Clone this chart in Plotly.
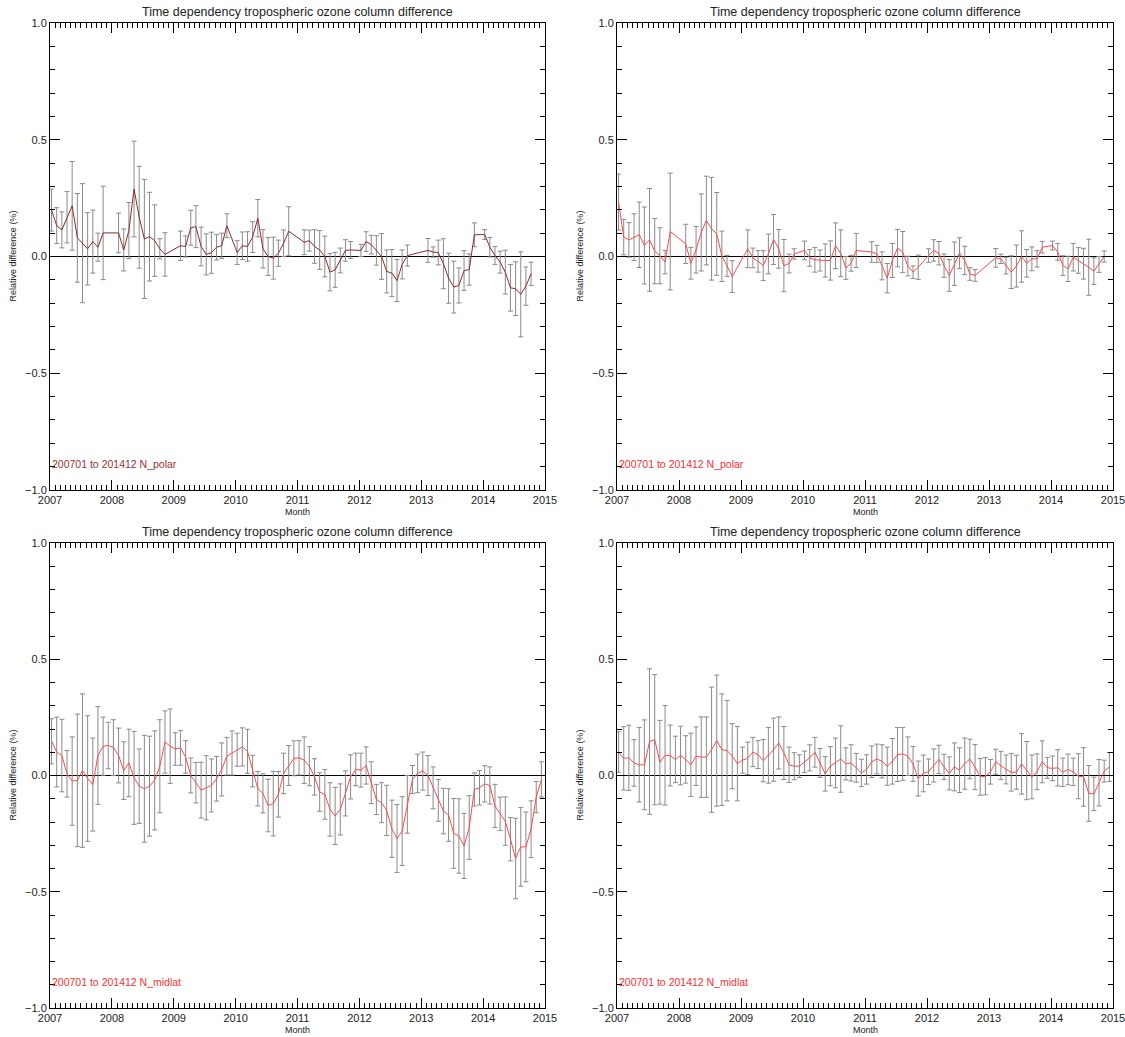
import plotly.graph_objects as go

# ---- N_polar, run A (dark red) ----
polar_a_months = [0, 1, 2, 3, 4, 5, 6, 7, 8, 9, 10, 13, 14, 15, 16, 17, 18, 19, 20, 21, 22,
                  25, 26, 27, 28, 29, 30, 31, 32, 33, 34, 36, 37, 38, 39, 40, 41, 42, 43, 44, 45, 46,
                  49, 50, 51, 52, 53, 54, 55, 56, 57, 58, 60, 61, 62, 63, 64, 65, 66, 67, 68, 69,
                  73, 74, 75, 76, 77, 78, 79, 80, 81, 82, 84, 85, 86, 87, 88, 89, 90, 91, 92, 93]
polar_a_diff = [0.199, 0.132, 0.114, 0.168, 0.217, 0.080, 0.057, 0.033, 0.064, 0.040, 0.101,
                0.101, 0.028, 0.111, 0.289, 0.168, 0.075, 0.085, 0.068, 0.033, 0.009,
                0.046, 0.043, 0.123, 0.128, 0.043, 0.009, 0.016, 0.040, 0.046, 0.132,
                0.017, 0.046, 0.043, 0.083, 0.164, 0.033, 0.000, -0.007, 0.014, 0.057, 0.108,
                0.061, 0.068, 0.043, 0.028, 0.000, -0.067, -0.057, -0.017, 0.026, 0.028,
                0.026, 0.064, 0.051, 0.026, 0.000, -0.064, -0.071, -0.103, -0.034, 0.004,
                0.026, 0.019, 0.017, -0.031, -0.093, -0.131, -0.124, -0.060, -0.056, 0.093,
                0.094, 0.040, 0.004, -0.024, -0.067, -0.134, -0.138, -0.162, -0.127, -0.074]
polar_a_err = [0.090, 0.077, 0.077, 0.110, 0.190, 0.190, 0.255, 0.155, 0.135, 0.060, 0.200,
               0.085, 0.090, 0.120, 0.205, 0.218, 0.255, 0.190, 0.153, 0.043, 0.093,
               0.063, 0.045, 0.075, 0.090, 0.083, 0.088, 0.088, 0.055, 0.054, 0.051,
               0.051, 0.059, 0.063, 0.066, 0.080, 0.082, 0.081, 0.090, 0.056, 0.057, 0.105,
               0.053, 0.045, 0.072, 0.083, 0.087, 0.080, 0.075, 0.053, 0.046, 0.036,
               0.026, 0.042, 0.040, 0.063, 0.098, 0.092, 0.101, 0.090, 0.062, 0.045,
               0.051, 0.022, 0.053, 0.107, 0.107, 0.111, 0.075, 0.085, 0.067, 0.051,
               0.021, 0.042, 0.039, 0.047, 0.094, 0.100, 0.115, 0.182, 0.082, 0.050]

# ---- N_polar, run B (red) ----
polar_b_months = [0, 1, 2, 3, 4, 5, 6, 7, 8, 9, 10, 13, 14, 15, 16, 17, 18, 19, 20, 21, 22,
                  25, 26, 27, 28, 29, 30, 31, 32, 33, 34, 36, 37, 38, 39, 40, 41, 42, 43, 44, 45, 46,
                  49, 50, 51, 52, 53, 54, 55, 56, 57, 58, 60, 61, 62, 63, 64, 65, 66, 67, 68, 69,
                  73, 74, 75, 76, 77, 78, 79, 80, 81, 82, 84, 85, 86, 87, 88, 89, 90, 91, 92, 93, 94]
polar_b_diff = [0.233, 0.083, 0.071, 0.083, 0.093, 0.047, 0.071, 0.023, 0.003, -0.024, 0.107,
                0.054, -0.029, 0.029, 0.103, 0.154, 0.119, 0.097, 0.001, -0.040, -0.086,
                0.033, -0.006, -0.021, -0.039, 0.011, 0.073, 0.033, -0.039, -0.030, 0.011,
                0.026, -0.006, -0.014, -0.017, -0.017, -0.017, 0.046, 0.014, -0.049, -0.029, 0.026,
                0.019, 0.011, -0.040, -0.093, -0.017, 0.036, 0.019, -0.041, -0.067, -0.046,
                0.004, 0.026, 0.014, -0.039, -0.081, -0.031, 0.014, -0.017, -0.075, -0.081,
                -0.006, -0.010, -0.039, -0.067, -0.041, 0.000, -0.029, -0.010, -0.010, 0.040,
                0.047, 0.020, -0.039, -0.053, -0.003, -0.017, -0.031, -0.046, -0.063, -0.034, 0.000]
polar_b_err = [0.120, 0.076, 0.074, 0.100, 0.140, 0.165, 0.220, 0.140, 0.120, 0.050, 0.250,
               0.084, 0.068, 0.100, 0.165, 0.190, 0.220, 0.177, 0.108, 0.045, 0.068,
               0.081, 0.042, 0.046, 0.064, 0.085, 0.107, 0.083, 0.112, 0.040, 0.022,
               0.040, 0.036, 0.053, 0.045, 0.071, 0.084, 0.098, 0.100, 0.049, 0.034, 0.073,
               0.044, 0.037, 0.060, 0.063, 0.073, 0.080, 0.088, 0.042, 0.027, 0.052,
               0.029, 0.046, 0.050, 0.050, 0.068, 0.093, 0.066, 0.061, 0.027, 0.025,
               0.040, 0.020, 0.036, 0.070, 0.090, 0.110, 0.059, 0.051, 0.035, 0.025,
               0.019, 0.036, 0.042, 0.054, 0.059, 0.055, 0.066, 0.120, 0.057, 0.034, 0.024]

# ---- N_midlat, run A ----
midlat_a_months = list(range(96))
midlat_a_diff = [0.147, 0.101, 0.086, 0.007, -0.024, -0.021, 0.021, -0.013, -0.039, 0.086, 0.126, 0.129,
                 0.120, 0.086, 0.021, 0.054, -0.010, -0.046, -0.057, -0.046, -0.021, 0.040, 0.144, 0.126,
                 0.114, 0.119, 0.080, 0.000, -0.031, -0.063, -0.053, -0.043, -0.014, 0.026, 0.083, 0.097,
                 0.111, 0.123, 0.104, 0.019, -0.057, -0.077, -0.129, -0.121, -0.081, 0.009, 0.043, 0.074,
                 0.076, 0.066, 0.040, -0.006, -0.071, -0.081, -0.146, -0.174, -0.146, -0.077, -0.006, 0.026,
                 0.023, 0.043, -0.031, -0.103, -0.117, -0.150, -0.229, -0.271, -0.239, -0.124, -0.017, 0.009,
                 0.019, 0.000, -0.053, -0.107, -0.153, -0.170, -0.249, -0.260, -0.303, -0.224, -0.060, -0.053,
                 -0.036, -0.043, -0.131, -0.165, -0.196, -0.274, -0.357, -0.307, -0.307, -0.231, -0.093, -0.017]
midlat_a_err = [0.097, 0.150, 0.156, 0.100, 0.190, 0.285, 0.330, 0.270, 0.200, 0.210, 0.125, 0.100,
                0.120, 0.118, 0.124, 0.145, 0.200, 0.160, 0.230, 0.215, 0.213, 0.200, 0.134, 0.160,
                0.070, 0.075, 0.070, 0.075, 0.087, 0.120, 0.138, 0.114, 0.096, 0.114, 0.081, 0.095,
                0.071, 0.082, 0.095, 0.068, 0.074, 0.084, 0.113, 0.139, 0.098, 0.087, 0.086, 0.075,
                0.074, 0.100, 0.084, 0.078, 0.083, 0.107, 0.115, 0.123, 0.110, 0.097, 0.095, 0.070,
                0.073, 0.080, 0.090, 0.065, 0.086, 0.108, 0.123, 0.146, 0.148, 0.124, 0.060, 0.083,
                0.082, 0.086, 0.090, 0.090, 0.098, 0.113, 0.150, 0.160, 0.140, 0.137, 0.071, 0.074,
                0.078, 0.080, 0.093, 0.072, 0.104, 0.093, 0.173, 0.169, 0.150, 0.122, 0.067, 0.076]

# ---- N_midlat, run B ----
midlat_b_months = list(range(96))
midlat_b_diff = [0.101, 0.074, 0.076, 0.054, 0.046, 0.046, 0.146, 0.154, 0.057, 0.087, 0.086, 0.069,
                 0.086, 0.069, 0.046, 0.083, 0.079, 0.079, 0.111, 0.150, 0.111, 0.107, 0.083, 0.051,
                 0.066, 0.074, 0.101, 0.090, 0.064, 0.087, 0.111, 0.140, 0.097, 0.046, 0.040, 0.040,
                 0.059, 0.076, 0.100, 0.054, 0.007, 0.040, 0.054, 0.071, 0.050, 0.054, 0.033, 0.011,
                 0.026, 0.059, 0.071, 0.061, 0.040, 0.061, 0.090, 0.093, 0.083, 0.050, -0.013, 0.009,
                 0.016, 0.043, 0.069, 0.037, 0.009, 0.037, 0.023, 0.051, 0.071, 0.036, -0.006, -0.003,
                 0.016, 0.059, 0.043, 0.026, 0.014, 0.014, 0.050, 0.021, -0.006, 0.016, 0.059, 0.033,
                 0.031, 0.033, 0.014, 0.026, 0.016, -0.003, -0.006, -0.077, -0.079, -0.031, 0.019, 0.037]
midlat_b_err = [0.087, 0.136, 0.140, 0.100, 0.160, 0.193, 0.313, 0.280, 0.180, 0.214, 0.131, 0.100,
                0.126, 0.102, 0.136, 0.126, 0.173, 0.173, 0.269, 0.282, 0.240, 0.216, 0.140, 0.160,
                0.056, 0.070, 0.063, 0.060, 0.091, 0.120, 0.136, 0.112, 0.114, 0.076, 0.058, 0.049,
                0.046, 0.056, 0.064, 0.062, 0.074, 0.084, 0.107, 0.143, 0.069, 0.078, 0.062, 0.059,
                0.063, 0.068, 0.064, 0.071, 0.082, 0.098, 0.116, 0.114, 0.083, 0.075, 0.075, 0.079,
                0.055, 0.071, 0.061, 0.054, 0.071, 0.103, 0.096, 0.110, 0.085, 0.097, 0.079, 0.080,
                0.053, 0.054, 0.061, 0.062, 0.081, 0.073, 0.130, 0.125, 0.094, 0.077, 0.090, 0.045,
                0.053, 0.078, 0.061, 0.066, 0.059, 0.097, 0.126, 0.120, 0.072, 0.100, 0.047, 0.062]

year_ticks = [2007, 2008, 2009, 2010, 2011, 2012, 2013, 2014, 2015]
y_ticks = [-1.0, -0.5, 0.0, 0.5, 1.0]

TITLE = "Time dependency tropospheric ozone column difference"
FONT = "Liberation Sans, Arial, sans-serif"
W, H = 1125, 1037

# panel boxes in pixels: (left, right, top, bottom)
panels = [
    dict(box=(50, 545, 23, 490), months=polar_a_months, diff=polar_a_diff, err=polar_a_err,
         line="#8e2a2a", label="200701 to 201412 N_polar", label_color="#a03030"),
    dict(box=(617, 1113, 23, 490), months=polar_b_months, diff=polar_b_diff, err=polar_b_err,
         line="#ff4a4a", label="200701 to 201412 N_polar", label_color="#ff3030"),
    dict(box=(50, 545, 543, 1008), months=midlat_a_months, diff=midlat_a_diff, err=midlat_a_err,
         line="#ff4a4a", label="200701 to 201412 N_midlat", label_color="#ff3030"),
    dict(box=(617, 1113, 543, 1008), months=midlat_b_months, diff=midlat_b_diff, err=midlat_b_err,
         line="#ff4a4a", label="200701 to 201412 N_midlat", label_color="#ff3030"),
]

fig = go.Figure()
layout = dict(width=W, height=H, margin=dict(l=0, r=0, t=0, b=0, pad=0, autoexpand=False),
              paper_bgcolor="white", plot_bgcolor="white", showlegend=False,
              font=dict(family=FONT, color="black", size=11))
annotations = []

for i, p in enumerate(panels, start=1):
    left, right, top, bottom = p["box"]
    xs = [2007 + (m + 0.3) / 12 for m in p["months"]]
    xa = "x" if i == 1 else f"x{i}"
    ya = "y" if i == 1 else f"y{i}"

    # error bars
    fig.add_trace(go.Scatter(
        x=xs, y=p["diff"], mode="markers", marker=dict(size=0.1, color="rgba(0,0,0,0)"),
        error_y=dict(type="data", array=p["err"], visible=True, color="#8a8a8a",
                     thickness=1, width=2.5),
        xaxis=xa, yaxis=ya, hoverinfo="skip"))
    # monthly mean difference
    fig.add_trace(go.Scatter(
        x=xs, y=p["diff"], mode="lines", line=dict(color=p["line"], width=1),
        xaxis=xa, yaxis=ya))

    common = dict(showline=True, linecolor="black", linewidth=1, mirror="ticks",
                  ticks="inside", ticklen=10, tickcolor="black", tickwidth=1,
                  showgrid=False, automargin=False, ticklabeloverflow="allow",
                  tickfont=dict(family=FONT, size=11, color="#222"))
    layout["xaxis" if i == 1 else f"xaxis{i}"] = dict(
        domain=[left / W, right / W], anchor=ya, range=[2007, 2015],
        tickvals=year_ticks, ticktext=[str(t) for t in year_ticks],
        minor=dict(dtick=1 / 12, tick0=2007, ticklen=5, tickcolor="black", ticks="inside"),
        zeroline=False, **common)
    layout["yaxis" if i == 1 else f"yaxis{i}"] = dict(
        domain=[1 - bottom / H, 1 - top / H], anchor=xa, range=[-1, 1],
        tickvals=y_ticks, tickformat=".1f",
        minor=dict(dtick=0.1, tick0=0, ticklen=5, tickcolor="black", ticks="inside"),
        zeroline=True, zerolinecolor="black", zerolinewidth=1, **common)

    cx = (left + right) / 2 / W
    annotations += [
        dict(text=TITLE, x=cx, y=1 - (top - 11) / H, xref="paper", yref="paper",
             showarrow=False, font=dict(size=12.5, color="#222"), xanchor="center", yanchor="middle"),
        dict(text="Month", x=cx, y=1 - (bottom + 22) / H, xref="paper", yref="paper",
             showarrow=False, font=dict(size=9, color="#222"), xanchor="center", yanchor="middle"),
        dict(text="Relative difference (%)", x=(left - 38) / W, y=1 - (top + bottom) / 2 / H,
             xref="paper", yref="paper", showarrow=False, textangle=-90,
             font=dict(size=9, color="#222"), xanchor="center", yanchor="middle"),
        dict(text=p["label"], x=left / W, y=1 - (bottom - 26) / H, xref="paper", yref="paper",
             showarrow=False, font=dict(size=10.5, color=p["label_color"]),
             xanchor="left", yanchor="middle"),
    ]

layout["annotations"] = annotations
fig.update_layout(**layout)
fig.write_html("out.html")
